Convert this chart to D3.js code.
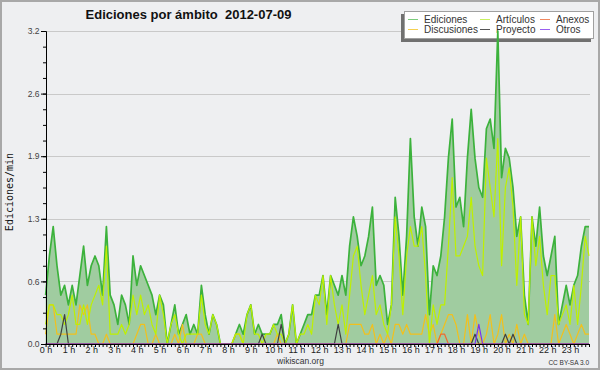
<!DOCTYPE html>
<html>
<head>
<meta charset="utf-8">
<script src="https://cdn.jsdelivr.net/npm/d3@7"></script>
<style>
  body { margin: 0; background: #eeeff1; }
  svg { font-family: "Liberation Sans", Arial, sans-serif; }
</style>
</head>
<body>
<svg id="chart" width="600" height="370"></svg>
<script>
// 10-minute slots, 144 per day; values are edits per minute
const hourLabels = d3.range(24).map(h => h + " h")

const ediciones = [
  0.5,0.9,1.2,0.8,0.5,0.6,0.4,0.6,0.4,0.7,1.0,0.6,
  0.8,0.9,0.8,0.5,1.2,0.5,0.4,0.2,0.5,0.4,0.2,0.9,
  0.6,0.8,0.7,0.6,0.5,0.3,0.5,0.4,0.0,0.2,0.4,0.1,
  0.2,0.3,0.1,0.2,0.1,0.6,0.3,0.1,0.3,0.2,0.0,0.0,
  0.0,0.0,0.1,0.2,0.1,0.3,0.4,0.1,0.2,0.1,0.1,0.1,
  0.2,0.2,0.3,0.0,0.1,0.4,0.0,0.1,0.2,0.3,0.3,0.5,
  0.5,0.7,0.3,0.7,0.6,0.5,0.7,0.5,1.0,1.3,1.1,0.8,
  0.9,1.1,1.4,0.6,0.7,0.6,0.2,0.4,1.5,1.1,0.5,1.1,
  2.1,1.3,1.0,1.4,1.2,0.3,0.8,0.7,0.9,1.3,1.9,2.3,
  1.4,1.5,1.2,1.9,2.4,1.9,1.6,1.5,2.2,2.3,2.0,3.2,
  1.7,2.0,1.9,1.6,1.1,1.3,0.5,0.2,1.3,1.0,1.4,0.9,
  0.7,0.9,1.1,0.2,0.4,0.6,0.4,0.6,0.7,1.0,1.2,1.2
]

const articulos = [
  0.2,0.4,0.4,0.3,0.3,0.2,0.3,0.5,0.2,0.2,0.4,0.2,
  0.4,0.5,0.6,0.4,1.0,0.1,0.1,0.1,0.2,0.1,0.2,0.5,
  0.3,0.5,0.3,0.4,0.2,0.1,0.5,0.3,0.0,0.2,0.3,0.1,
  0.0,0.1,0.1,0.1,0.1,0.5,0.2,0.1,0.3,0.2,0.0,0.0,
  0.0,0.0,0.1,0.1,0.0,0.3,0.4,0.1,0.1,0.0,0.1,0.1,
  0.2,0.1,0.1,0.0,0.1,0.4,0.0,0.1,0.1,0.2,0.1,0.5,
  0.4,0.7,0.2,0.7,0.4,0.2,0.4,0.1,0.5,0.9,1.0,0.6,
  0.3,0.5,0.7,0.3,0.4,0.2,0.1,0.4,1.3,0.9,0.3,0.9,
  1.2,1.0,1.0,1.2,0.7,0.0,0.4,0.2,0.4,0.4,1.0,1.7,
  0.9,0.9,1.0,1.1,1.5,1.0,0.8,0.7,1.9,1.6,1.3,2.1,
  0.8,1.6,1.8,1.4,0.6,1.3,0.3,0.2,1.3,0.8,1.1,0.6,
  0.3,0.7,0.7,0.2,0.3,0.4,0.2,0.6,0.2,0.6,1.1,0.9
]

const discusiones = [
  0.1,0.4,0.4,0.1,0.1,0.1,0.1,0.1,0.1,0.4,0.3,0.4,
  0.1,0.1,0.0,0.0,0.1,0.0,0.0,0.0,0.0,0.0,0.0,0.0,
  0.1,0.2,0.2,0.0,0.0,0.1,0.0,0.0,0.0,0.0,0.1,0.0,
  0.2,0.0,0.0,0.0,0.1,0.1,0.0,0.0,0.0,0.0,0.0,0.0,
  0.0,0.0,0.1,0.1,0.0,0.0,0.0,0.0,0.0,0.0,0.0,0.0,
  0.0,0.1,0.0,0.0,0.0,0.0,0.0,0.0,0.0,0.0,0.0,0.0,
  0.0,0.0,0.0,0.0,0.0,0.0,0.0,0.0,0.2,0.2,0.2,0.2,
  0.1,0.1,0.2,0.0,0.1,0.0,0.1,0.0,0.2,0.2,0.1,0.2,
  0.1,0.1,0.1,0.1,0.3,0.1,0.2,0.0,0.1,0.2,0.3,0.3,
  0.2,0.0,0.0,0.3,0.0,0.3,0.1,0.0,0.1,0.3,0.0,0.1,
  0.3,0.0,0.1,0.0,0.2,0.0,0.1,0.0,0.0,0.0,0.0,0.0,
  0.0,0.0,0.3,0.0,0.1,0.2,0.1,0.0,0.1,0.2,0.1,0.1
]

const proyecto = [
  0.0,0.0,0.0,0.0,0.1,0.3,0.0,0.0,0.0,0.0,0.0,0.0,
  0.0,0.0,0.0,0.0,0.0,0.0,0.0,0.0,0.0,0.0,0.0,0.0,
  0.0,0.0,0.0,0.0,0.0,0.0,0.0,0.0,0.0,0.0,0.0,0.0,
  0.0,0.0,0.0,0.0,0.0,0.0,0.0,0.0,0.0,0.0,0.0,0.0,
  0.0,0.0,0.0,0.0,0.0,0.0,0.0,0.0,0.0,0.1,0.0,0.0,
  0.0,0.0,0.2,0.0,0.0,0.0,0.0,0.0,0.0,0.0,0.0,0.0,
  0.0,0.0,0.0,0.0,0.0,0.2,0.0,0.0,0.0,0.0,0.0,0.0,
  0.0,0.0,0.0,0.0,0.0,0.0,0.0,0.0,0.0,0.0,0.0,0.0,
  0.0,0.0,0.0,0.0,0.0,0.0,0.0,0.0,0.0,0.0,0.0,0.0,
  0.0,0.0,0.0,0.0,0.0,0.1,0.0,0.0,0.0,0.0,0.0,0.0,
  0.0,0.1,0.0,0.1,0.0,0.0,0.0,0.0,0.0,0.0,0.0,0.0,
  0.0,0.0,0.0,0.0,0.0,0.0,0.0,0.0,0.0,0.0,0.0,0.0
]

const anexos = [
  0.0,0.0,0.0,0.0,0.0,0.0,0.0,0.0,0.0,0.0,0.0,0.0,
  0.0,0.0,0.0,0.0,0.0,0.0,0.0,0.0,0.0,0.0,0.0,0.0,
  0.0,0.0,0.0,0.0,0.0,0.0,0.0,0.0,0.0,0.0,0.0,0.0,
  0.0,0.0,0.0,0.0,0.0,0.0,0.0,0.0,0.0,0.0,0.0,0.0,
  0.0,0.0,0.0,0.0,0.0,0.0,0.0,0.0,0.0,0.0,0.0,0.0,
  0.0,0.0,0.0,0.0,0.0,0.0,0.0,0.0,0.0,0.0,0.0,0.0,
  0.0,0.0,0.0,0.0,0.0,0.0,0.0,0.0,0.0,0.0,0.0,0.0,
  0.0,0.0,0.0,0.0,0.0,0.0,0.0,0.0,0.0,0.0,0.0,0.0,
  0.0,0.0,0.0,0.0,0.0,0.0,0.0,0.0,0.1,0.1,0.0,0.0,
  0.0,0.0,0.0,0.0,0.0,0.0,0.0,0.0,0.0,0.0,0.0,0.0,
  0.0,0.0,0.0,0.0,0.0,0.0,0.0,0.0,0.0,0.0,0.0,0.0,
  0.0,0.0,0.0,0.0,0.0,0.0,0.0,0.0,0.0,0.0,0.0,0.0
]

const otros = [
  0.0,0.0,0.0,0.0,0.0,0.0,0.0,0.0,0.0,0.0,0.0,0.0,
  0.0,0.0,0.0,0.0,0.0,0.0,0.0,0.0,0.0,0.0,0.0,0.0,
  0.0,0.0,0.0,0.0,0.0,0.0,0.0,0.0,0.0,0.0,0.0,0.0,
  0.0,0.0,0.0,0.0,0.0,0.0,0.0,0.0,0.0,0.0,0.0,0.0,
  0.0,0.0,0.0,0.0,0.0,0.0,0.0,0.0,0.0,0.0,0.0,0.0,
  0.0,0.0,0.0,0.0,0.0,0.0,0.0,0.0,0.0,0.0,0.0,0.0,
  0.0,0.0,0.0,0.0,0.0,0.0,0.0,0.0,0.0,0.0,0.0,0.0,
  0.0,0.0,0.0,0.0,0.0,0.0,0.0,0.0,0.0,0.0,0.0,0.0,
  0.0,0.0,0.0,0.0,0.0,0.0,0.0,0.0,0.0,0.0,0.0,0.0,
  0.0,0.0,0.0,0.0,0.0,0.0,0.2,0.0,0.0,0.0,0.0,0.0,
  0.0,0.0,0.0,0.0,0.0,0.0,0.0,0.0,0.0,0.0,0.0,0.0,
  0.0,0.0,0.0,0.0,0.0,0.0,0.0,0.0,0.0,0.0,0.0,0.0
]

// legend order: column by column
const series = [
  { name: "Ediciones",   values: ediciones,   color: "#3cb23c", legend: "#7ccc7c" },
  { name: "Discusiones", values: discusiones, color: "#f2c01c", legend: "#f5d050" },
  { name: "Artículos",   values: articulos,   color: "#bef000", legend: "#c8f060" },
  { name: "Proyecto",    values: proyecto,    color: "#404040", legend: "#555" },
  { name: "Anexos",      values: anexos,      color: "#ee6a30", legend: "#f08860" },
  { name: "Otros",       values: otros,       color: "#7a30f0", legend: "#9a60f0" }
]

const svg = d3.select("#chart")
const W = 600, H = 370

const x = d3.scaleLinear().domain([0, 143]).range([45.6, 589])
const y = d3.scaleLinear().domain([0, 3.2]).range([344, 31])

const majorY = d3.range(0, 3.2001, 0.64)
const minorY = d3.range(0, 3.2001, 0.16)

svg.append("rect").attr("x", 1).attr("y", 1).attr("width", W - 2).attr("height", H - 2)
  .attr("fill", "#eeeff1").attr("stroke", "#a8a8a8").attr("stroke-width", 2)

// title
svg.append("text").attr("x", 188.5).attr("y", 18.5)
  .attr("text-anchor", "middle").attr("font-size", 13).attr("font-weight", "bold")
  .attr("fill", "#111").style("white-space", "pre")
  .text("Ediciones por ámbito  2012-07-09")

// grid
svg.append("g").selectAll("line").data(majorY.slice(1)).join("line")
  .attr("x1", 46).attr("x2", 590)
  .attr("y1", d => Math.round(y(d)) + 0.5).attr("y2", d => Math.round(y(d)) + 0.5)
  .attr("stroke", "#c9c9c9")

// legend (drawn under the data, like the original)
const legend = svg.append("g")
legend.append("rect").attr("x", 401).attr("y", 14).attr("width", 190).attr("height", 28).attr("fill", "#707070")
legend.append("rect").attr("x", 404.5).attr("y", 11.5).attr("width", 189).attr("height", 27)
  .attr("fill", "#fff").attr("stroke", "#a0a0a0")
const colX = [408, 480, 540]
const rowY = [19.5, 29.5]
series.forEach((s, k) => {
  const cx = colX[Math.floor(k / 2)], cy = rowY[k % 2]
  legend.append("line").attr("x1", cx).attr("x2", cx + 10).attr("y1", cy).attr("y2", cy)
    .attr("stroke", s.legend).attr("stroke-width", 1)
  legend.append("text").attr("x", cx + 16).attr("y", cy + 3.5)
    .attr("font-size", 10).attr("fill", "#333").text(s.name)
})

// total edits as area
const area = d3.area().x((d, i) => x(i)).y0(y(0)).y1(d => y(d))
svg.append("path").datum(ediciones).attr("d", area).attr("fill", "#a0cca0")

const line = d3.line().x((d, i) => x(i)).y(d => y(d))
series.forEach(s => {
  svg.append("path").datum(s.values).attr("d", line)
    .attr("fill", "none").attr("stroke", s.color)
    .attr("stroke-width", s.name == "Ediciones" ? 1.7 : 1.2)
    .attr("stroke-linejoin", "round")
})

// y axis: major + minor ticks
const yAxis = svg.append("g").attr("transform", "translate(46,0)")
  .call(d3.axisLeft(y).tickValues(majorY).tickFormat(d3.format(".1f")).tickSize(5).tickSizeOuter(0).tickPadding(1.5))
yAxis.append("g").call(d3.axisLeft(y).tickValues(minorY).tickFormat("").tickSize(3).tickSizeOuter(0))
yAxis.selectAll("text").attr("font-size", 8.5).attr("fill", "#444")
  .style("font-family", "'Liberation Sans Narrow', 'Liberation Sans', sans-serif")

// x axis: a tick per 10 min, label per hour
const xAxis = svg.append("g").attr("transform", "translate(0,344)")
xAxis.call(d3.axisBottom(x).tickValues(d3.range(144)).tickFormat("").tickSize(3).tickSizeOuter(0))
xAxis.append("g").call(d3.axisBottom(x).tickValues(d3.range(0, 144, 6))
  .tickFormat(i => hourLabels[i / 6]).tickSize(0).tickPadding(3).tickSizeOuter(0))
xAxis.selectAll("text").attr("font-size", 9).attr("fill", "#222")
  .style("font-family", "'Liberation Sans', sans-serif")
svg.selectAll(".domain").attr("stroke", "#000")
svg.selectAll(".tick line").attr("stroke", "#000")

// y label
svg.append("text").attr("transform", "translate(13,192) rotate(-90)")
  .attr("text-anchor", "middle").attr("font-size", 10).attr("fill", "#111")
  .style("font-family", "'DejaVu Sans Mono', monospace")
  .text("Ediciones/min")

// footer
svg.append("text").attr("x", 300.5).attr("y", 364).attr("text-anchor", "middle")
  .attr("font-size", 8.5).attr("fill", "#333").text("wikiscan.org")
svg.append("text").attr("x", 589).attr("y", 364.5).attr("text-anchor", "end")
  .attr("font-size", 6.5).attr("fill", "#333").text("CC BY-SA 3.0")
</script>
</body>
</html>
